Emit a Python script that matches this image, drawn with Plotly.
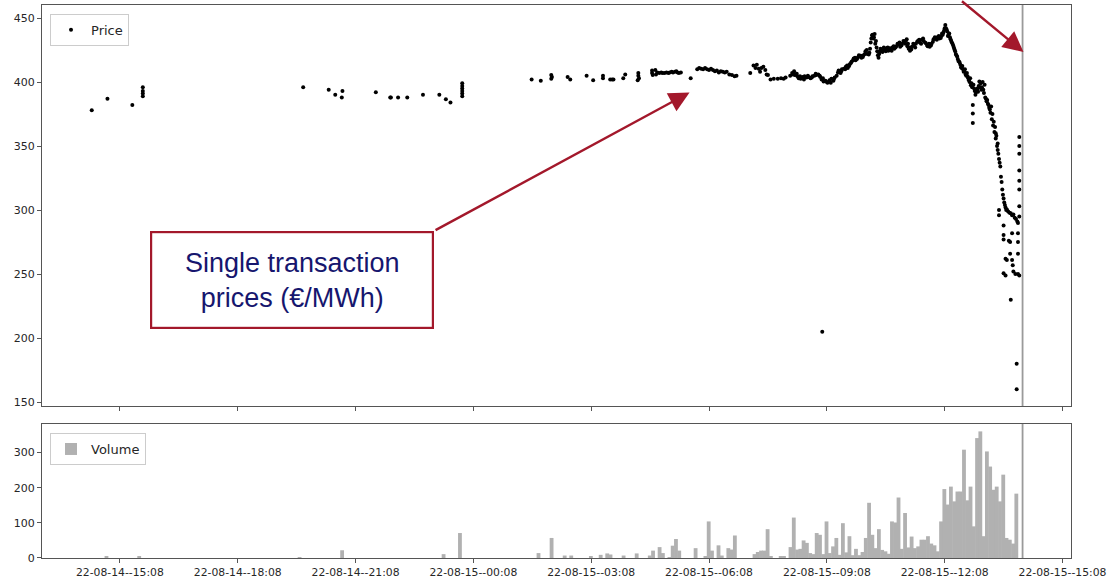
import plotly.graph_objects as go

# ---------------------------------------------------------------------------
# Single intraday transactions (time of trade, price in EUR/MWh)
# ---------------------------------------------------------------------------
times14 = [
    "14:25", "14:49", "15:27", "15:43", "15:43", "15:43", "15:43", "19:48", "20:27", "20:37",
    "20:47", "20:48", "21:39", "22:01", "22:02", "22:13", "22:27", "22:51", "23:16", "23:26",
    "23:33", "23:51", "23:51", "23:51", "23:51", "23:51", "23:51",
]
prices14 = [
    378, 387, 382, 396, 393, 391, 389, 396, 394, 390,
    388, 393, 392, 388, 388, 388, 388, 390, 390, 386.5,
    384, 399, 397, 395, 393, 391, 389,
]

times15 = [
    # night / early morning
    "01:37", "01:51", "02:07", "02:08", "02:07", "02:32", "02:36", "03:01", "03:11", "03:26",
    "03:26", "03:37", "03:40", "03:42", "03:57", "04:00", "04:19", "04:20", "04:20", "04:21",
    "04:41", "04:41", "04:42", "04:46", "04:47", "04:49", "04:52", "04:55", "04:57", "05:00",
    "05:03", "05:06", "05:08", "05:11", "05:13", "05:16", "05:18", "05:20", "05:22", "05:25",
    "05:40", "05:50", "05:53", "05:56", "05:59", "06:02", "06:05", "06:08", "06:11", "06:14",
    "06:17", "06:20", "06:23", "06:26", "06:29", "06:32", "06:35", "06:39", "06:43", "06:47",
    "06:50", "07:11", "07:16", "07:19", "07:21", "07:24", "07:26", "07:28", "07:31", "07:34",
    "07:36", "07:38", "07:42", "07:47", "07:53", "07:58", "08:02", "08:05", "08:12", "08:15",
    # morning
    "08:18", "08:20", "08:23", "08:25", "08:28", "08:31", "08:34", "08:37", "08:40", "08:43",
    "08:46", "08:49", "08:52", "08:55", "08:58", "09:00", "09:03", "09:06", "09:09", "09:12",
    "09:15", "09:18", "09:20", "09:23", "09:26", "09:29", "09:31", "09:34",
    "09:37", "09:40", "09:43", "09:46", "09:49", "09:52", "09:55", "09:58", "10:01", "10:04",
    "10:07", "10:10", "10:13", "10:15", "10:17", "10:19", "10:21", "10:23", "10:25", "10:27",
    "10:28", "10:30", "10:33", "10:36", "10:39", "10:42", "10:45", "10:48", "10:51", "10:54",
    "10:57", "11:00", "11:03", "11:06", "11:09", "11:11", "11:13", "11:15", "11:18", "11:21",
    "11:24", "11:27", "11:30", "11:33", "11:36", "11:39", "11:42", "11:45", "11:48", "11:51",
    "11:54", "11:57", "12:00", "12:03", "12:05", "12:07", "12:09", "12:10", "12:12", "12:14",
    # afternoon sell-off
    "12:16", "12:18", "12:20", "12:22", "12:24", "12:26", "12:28", "12:30", "12:32", "12:34",
    "12:36", "12:38", "12:40", "12:42", "12:44", "12:46", "12:47", "12:48", "12:49", "12:50",
    "12:51", "12:51", "12:51", "12:52", "12:53", "12:54", "12:56", "12:58", "13:00", "13:01",
    "13:03", "13:04", "13:05", "13:06", "13:08", "13:09", "13:10", "13:12", "13:13", "13:14",
    "13:16", "13:18", "13:19", "13:20", "13:21", "13:22", "13:24", "13:25", "13:26", "13:27",
    "13:28", "13:29", "13:30", "13:31", "13:33", "13:34", "13:36", "13:37", "13:39", "13:41",
    "13:43", "13:45", "13:47", "13:49", "13:51", "13:53", "13:55", "13:57", "13:59", "14:00",
    # scattered trades close to gate closure
    "13:31", "13:31", "13:38", "13:38", "13:38", "13:38", "13:41", "13:41", "13:43", "13:46",
    "13:48", "13:48", "13:49", "13:51", "13:51", "13:52", "13:53", "13:56", "13:58", "13:58",
    "14:00", "14:00", "14:00", "14:00", "14:02", "14:02", "14:02", "14:02", "14:02", "14:02",
    "14:02", "14:02", "14:02", "09:01",
]
prices15 = [
    402, 401, 405.5, 404, 402.5, 404, 402, 405, 401.5, 405,
    403, 402, 402, 402, 403, 406, 401.5, 407, 405, 403,
    409, 407, 405.5, 409.5, 406, 407.5, 407, 407.5, 407, 407,
    407.5, 407, 407.5, 408, 407.5, 408, 408.5, 407.5, 407, 407.5,
    403, 410, 411, 410.5, 410, 411, 410, 409.5, 410.5, 409.5,
    408.5, 409, 407.5, 408.5, 408, 407.5, 408, 406, 405.5, 404.5,
    405, 407, 413, 411, 413.5, 410.5, 408, 411, 412, 409.5,
    406, 405.5, 402, 402.5, 402.5, 403, 402.5, 403.5, 405, 407,
    408.5, 406, 404.5, 403, 402.5, 404, 404.5, 403.5, 404, 403,
    404.5, 405, 405.5, 406, 404, 402, 400.5, 401, 399.5, 401.5,
    402.5, 401, 403.5, 405, 409, 407, 410, 410.5,
    412, 411, 414, 416, 418.5, 417, 419, 420, 419, 421,
    424, 422, 423, 431, 436.5, 434, 437.5, 432, 424, 419,
    422, 426, 423.5, 425, 426.5, 424.5, 425.5, 427, 426, 428,
    429.5, 427.5, 430, 431.5, 432.5, 428, 426, 424.5, 427.5, 428.5,
    430, 432, 431, 433, 432, 430.5, 428, 427.5, 430, 433.5,
    434, 435, 434, 436, 437, 440, 444.5, 442, 439.5, 437,
    435, 432, 430, 427, 424, 421, 418, 416, 413.5, 411,
    410, 408.5, 406, 407, 403, 400, 403, 397.5, 399, 396,
    382, 375.5, 368, 398, 395, 393, 392, 395, 397, 400.5,
    399, 394, 396, 400, 391.5, 398, 388, 385, 386, 383,
    380, 376, 381, 371, 375, 366, 361, 365, 356, 358,
    350, 352, 344, 340, 334, 326, 316, 312, 306, 302,
    300.5, 299, 298, 297.5, 296, 296.5, 294, 293, 291, 290,
    300, 296, 288, 280.5, 277, 250.6, 262, 249, 261, 276,
    275, 266, 230, 282, 261, 257, 252, 250, 180, 160,
    282, 275, 266, 250, 357, 350, 344, 331, 323, 316,
    303, 295, 249, 205,
]

# further trades during the busy hours of 15 August
times15_busy = [
    "08:16", "08:19", "08:22", "08:27", "08:33", "08:39", "08:45", "08:51", "08:57", "09:02",
    "09:08", "09:14", "09:19", "09:25", "09:30",
    "09:36", "09:39", "09:42", "09:45", "09:48", "09:51", "09:54", "09:57", "10:00", "10:03",
    "10:06", "10:09", "10:12", "10:14", "10:16", "10:18", "10:20", "10:22", "10:24", "10:26",
    "10:29", "10:32", "10:35", "10:38", "10:41", "10:44", "10:47", "10:50", "10:53", "10:56",
    "10:59", "11:02", "11:05", "11:08", "11:10", "11:12", "11:14", "11:17", "11:20", "11:23",
    "11:26", "11:29", "11:32", "11:35", "11:38", "11:41", "11:44", "11:47", "11:50", "11:53",
    "11:56", "11:59", "12:02", "12:04", "12:06", "12:08", "12:11", "12:13", "12:15", "12:17",
    "12:19", "12:21", "12:23", "12:25", "12:27", "12:29", "12:31", "12:33", "12:35", "12:37",
    "12:39", "12:41", "12:43", "12:45", "12:55", "12:57", "12:59", "13:02", "13:07", "13:11",
    "13:15", "13:17", "13:23", "13:26", "13:29", "13:32", "13:35", "13:38", "13:40", "13:42",
]
prices15_busy = [
    406, 405.5, 406.5, 404.5, 402, 405, 403.5, 406.5, 405, 403,
    400, 399.5, 402.5, 407.5, 408.5,
    410, 413, 412.5, 415, 417, 419, 418, 421, 420.5, 419.5,
    422, 425, 421.5, 426, 434, 437, 435, 430, 427, 421,
    424, 425, 427, 424, 427, 426.5, 424.5, 428, 427, 430,
    431, 428.5, 432, 430, 433.5, 430, 427, 425.5, 430, 427,
    431.5, 433, 430, 434, 431, 429, 430, 428.5, 431.5, 435,
    433, 436, 434.5, 438, 438.5, 442, 441, 436, 438, 433.5,
    431, 428.5, 425.5, 422, 420, 416.5, 415, 411.5, 412.5, 408,
    410, 405, 404.5, 401.5, 390, 394, 392.5, 396, 394, 387,
    382, 378.5, 369, 360, 347, 337, 322, 309, 304, 300,
]

# ---------------------------------------------------------------------------
# Traded volume in 5-minute buckets (bucket start, MWh)
# ---------------------------------------------------------------------------
vol_times14 = ["14:45", "15:35", "19:40", "20:45", "23:20", "23:45"]
vol14 = [3, 5, 2, 22, 11, 71]

vol_times15 = [
    "01:45", "02:05", "02:25", "02:35", "03:05", "03:20", "03:30", "03:35", "03:55", "04:15",
    "04:35", "04:40", "04:50", "04:55", "05:05", "05:10", "05:15", "05:20", "05:45", "06:00",
    "06:05", "06:10", "06:20", "06:25", "06:35", "06:40", "06:45", "07:15", "07:20", "07:25",
    "07:30", "07:35", "07:40", "07:55", "08:00", "08:10", "08:15", "08:20", "08:25", "08:30",
    "08:35", "08:40", "08:45", "08:50", "08:55", "09:00", "09:05", "09:10", "09:15", "09:20",
    "09:25", "09:30", "09:35", "09:40", "09:45", "09:50", "09:55", "10:00", "10:05", "10:10",
    "10:15", "10:20", "10:25", "10:30", "10:35", "10:40", "10:45", "10:50", "10:55", "11:00",
    "11:05", "11:10", "11:15", "11:20", "11:25", "11:30", "11:35", "11:40", "11:45", "11:50",
    "11:55", "12:00", "12:05", "12:10", "12:15", "12:20", "12:25", "12:30", "12:35", "12:40",
    "12:45", "12:50", "12:55", "13:00", "13:05", "13:10", "13:15", "13:20", "13:25", "13:30",
    "13:35", "13:40", "13:45", "13:50", "13:55",
]
vol15 = [
    14, 57, 7, 7, 3, 9, 13, 10, 7, 13,
    7, 21, 31, 14, 2, 35, 54, 21, 28, 4,
    104, 21, 36, 7, 28, 24, 64, 11, 17, 21,
    21, 82, 3, 3, 3, 31, 115, 24, 26, 50,
    43, 14, 11, 71, 66, 11, 104, 14, 33, 57,
    9, 99, 16, 62, 8, 26, 8, 17, 57, 157,
    66, 28, 82, 23, 19, 12, 104, 101, 172, 26,
    128, 30, 61, 28, 33, 52, 52, 62, 41, 36,
    19, 104, 196, 152, 203, 161, 189, 189, 308, 164,
    203, 90, 341, 360, 62, 303, 260, 194, 203, 161,
    237, 57, 52, 41, 183,
]

price_ticks = [150, 200, 250, 300, 350, 400, 450]
volume_ticks = [0, 100, 200, 300]
gate_closure = "2022-08-15 14:07"

assert len(times14) == len(prices14)
assert len(times15) == len(prices15)
assert len(times15_busy) == len(prices15_busy)
assert len(vol_times15) == len(vol15)

price_x = (["2022-08-14 " + t for t in times14]
           + ["2022-08-15 " + t for t in times15]
           + ["2022-08-15 " + t for t in times15_busy])
price_y = prices14 + prices15 + prices15_busy
vol_x = ["2022-08-14 " + t for t in vol_times14] + ["2022-08-15 " + t for t in vol_times15]
vol_y = vol14 + vol15

FONT = "DejaVu Sans"
TXT = "#262626"
SPINE = "#555555"
RED = "#a3182b"
NAVY = "#16166e"

fig = go.Figure()
fig.add_trace(go.Scatter(
    x=price_x, y=price_y, mode="markers", name="Price",
    marker=dict(color="black", size=4, line_width=0),
    xaxis="x", yaxis="y", legend="legend",
))
# bars a little wider than the 5-minute bucket so neighbours touch without seams
fig.add_trace(go.Bar(
    x=vol_x, y=vol_y, name="Volume", width=350000, offset=-25000,
    marker=dict(color="#b1b1b1", line_width=0),
    xaxis="x2", yaxis="y2", legend="legend2",
))

x_common = dict(
    type="date",
    range=["2022-08-14 13:09", "2022-08-15 15:21"],
    tick0="2022-08-14 15:08", dtick=3 * 3600 * 1000,
    tickformat="%y-%m-%d--%H:%M",
    ticks="outside", ticklen=4, tickwidth=1, tickcolor=SPINE,
    showline=True, linecolor=SPINE, linewidth=1, mirror=True,
    showgrid=False, zeroline=False, automargin=False,
    tickfont=dict(family=FONT, size=10.8, color=TXT),
)
y_common = dict(
    ticks="outside", ticklen=4, tickwidth=1, tickcolor=SPINE,
    showline=True, linecolor=SPINE, linewidth=1, mirror=True,
    showgrid=False, zeroline=False, automargin=False,
    tickfont=dict(family=FONT, size=11, color=TXT),
)

legend_common = dict(
    xref="paper", yref="paper", xanchor="left", yanchor="top",
    bgcolor="white", bordercolor="#cccccc", borderwidth=1,
    font=dict(family=FONT, size=13, color=TXT),
)

fig.update_layout(
    width=1110, height=579,
    margin=dict(l=42, r=39, t=5, b=21, autoexpand=False),
    paper_bgcolor="white", plot_bgcolor="white",
    font=dict(family=FONT, color=TXT),
    xaxis=dict(x_common, domain=[0, 1], anchor="y", showticklabels=False),
    xaxis2=dict(x_common, domain=[0, 1], anchor="y2", matches="x"),
    yaxis=dict(y_common, domain=[0.2749, 1], range=[147, 460.2], tickvals=price_ticks),
    yaxis2=dict(y_common, domain=[0, 0.2423], range=[0, 381], tickvals=volume_ticks),
    legend=dict(legend_common, x=0.0078, y=0.984),
    legend2=dict(legend_common, x=0.0078, y=0.226),
    showlegend=True,
    shapes=[
        dict(type="line", xref="x", yref="y domain", x0=gate_closure, x1=gate_closure,
             y0=0, y1=1, line=dict(color="#9a9a9a", width=1.8)),
        dict(type="line", xref="x2", yref="y2 domain", x0=gate_closure, x1=gate_closure,
             y0=0, y1=1, line=dict(color="#9a9a9a", width=1.8)),
    ],
    annotations=[
        # callout box
        dict(xref="paper", yref="paper", x=0.24295, y=0.5027,
             xanchor="center", yanchor="middle",
             text="Single transaction<br>prices (€/MWh)", showarrow=False,
             width=280, height=94, borderwidth=2.2, borderpad=0,
             bordercolor=RED, bgcolor="white", align="center",
             font=dict(family="Liberation Sans", size=27, color=NAVY)),
        # arrow from the callout to the price series
        dict(xref="paper", yref="paper", x=0.6293, y=0.8418, text="",
             showarrow=True, ax=-255.5, ay=138.5, axref="pixel", ayref="pixel",
             arrowhead=2, arrowsize=1.7, arrowwidth=2.4, arrowcolor=RED, standoff=0),
        # arrow pointing at the gate-closure line
        dict(xref="paper", yref="paper", x=0.9538, y=0.915, text="",
             showarrow=True, ax=-63, ay=-72, axref="pixel", ayref="pixel",
             arrowhead=2, arrowsize=1.7, arrowwidth=2.4, arrowcolor=RED, standoff=0),
    ],
)

fig.write_html("out.html")
